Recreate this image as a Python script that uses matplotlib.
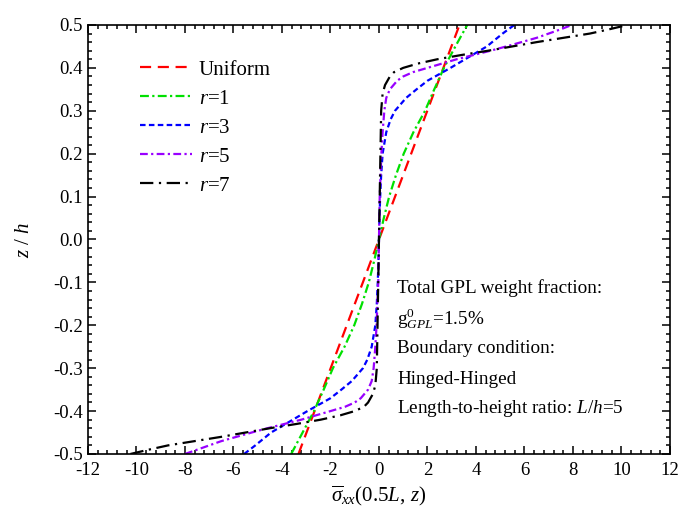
import numpy as np
import matplotlib
matplotlib.use('Agg')
import matplotlib.pyplot as plt
from matplotlib.ticker import MultipleLocator, AutoMinorLocator, FormatStrFormatter

plt.rcParams['font.family'] = ['Liberation Serif', 'DejaVu Serif']
plt.rcParams['mathtext.fontset'] = 'custom'
plt.rcParams['mathtext.rm'] = 'Liberation Serif'
plt.rcParams['mathtext.it'] = 'Liberation Serif:italic'
plt.rcParams['axes.unicode_minus'] = False

# Dati: z/h e tensione normalizzata
z_uniform = [-0.5, 0.5]
s_uniform = [-3.32, 3.32]

z_r1 = [-0.5, -0.45, -0.4, -0.35, -0.3, -0.25, -0.2, -0.15, -0.1, -0.05, 0.0,
        0.05, 0.1, 0.15, 0.2, 0.25, 0.3, 0.35, 0.4, 0.45, 0.5]
s_r1 = [-3.62, -3.15, -2.68, -2.28, -1.9, -1.42, -1.02, -0.7, -0.42, -0.2, 0.0,
        0.2, 0.42, 0.7, 1.02, 1.42, 1.9, 2.28, 2.68, 3.15, 3.64]

z_r3 = [-0.5, -0.48, -0.45, -0.42, -0.4, -0.37, -0.35, -0.33, -0.3, -0.28, -0.25,
        -0.2, -0.15, -0.1, -0.05, 0.0, 0.05, 0.1, 0.15, 0.2, 0.25, 0.28, 0.3,
        0.33, 0.35, 0.37, 0.4, 0.42, 0.45, 0.48, 0.5]
s_r3 = [-5.56, -5.1, -4.45, -3.55, -2.95, -2.0, -1.55, -1.12, -0.66, -0.48, -0.3,
        -0.15, -0.09, -0.05, -0.02, 0.0, 0.02, 0.05, 0.09, 0.15, 0.3, 0.48, 0.66,
        1.12, 1.55, 2.0, 2.95, 3.55, 4.45, 5.1, 5.58]

z_r5 = [-0.5, -0.49, -0.47, -0.45, -0.44, -0.43, -0.42, -0.41, -0.4, -0.39, -0.38,
        -0.37, -0.35, -0.33, -0.3, -0.25, -0.2, -0.1, 0.0, 0.1, 0.2, 0.25, 0.3,
        0.33, 0.35, 0.37, 0.38, 0.39, 0.4, 0.41, 0.42, 0.43, 0.44, 0.45, 0.47,
        0.49, 0.5]
s_r5 = [-8.0, -7.5, -6.5, -5.25, -4.6, -3.9, -3.2, -2.6, -2.0, -1.4, -1.0,
        -0.75, -0.45, -0.3, -0.22, -0.15, -0.1, -0.03, 0.0, 0.03, 0.1, 0.15, 0.22,
        0.3, 0.45, 0.75, 1.0, 1.4, 2.0, 2.6, 3.2, 3.9, 4.6, 5.25, 6.5,
        7.5, 7.95]

z_r7 = [-0.5, -0.49, -0.48, -0.47, -0.46, -0.45, -0.44, -0.43, -0.42, -0.41, -0.4,
        -0.39, -0.38, -0.36, -0.34, -0.3, -0.2, -0.1, 0.0, 0.1, 0.2, 0.3, 0.34,
        0.36, 0.38, 0.39, 0.4, 0.41, 0.42, 0.43, 0.44, 0.45, 0.46, 0.47, 0.48,
        0.49, 0.5]
s_r7 = [-10.25, -9.5, -8.7, -7.6, -6.5, -5.5, -4.5, -3.4, -2.4, -1.6, -1.0,
        -0.62, -0.45, -0.25, -0.15, -0.09, -0.06, -0.03, 0.0, 0.03, 0.06, 0.09, 0.15,
        0.25, 0.45, 0.62, 1.0, 1.6, 2.4, 3.4, 4.5, 5.5, 6.5, 7.6, 8.7,
        9.5, 10.25]

fig = plt.figure(figsize=(6.81, 5.16), dpi=100)
ax = fig.add_axes([0.1292, 0.1202, 0.8546, 0.8314])

lw = 1.6
ax.plot(s_uniform, z_uniform, color='#ff0000', lw=lw, linestyle=(0, (5, 3)), label='Uniform')
ax.plot(s_r1, z_r1, color='#00e000', lw=lw, linestyle=(0, (4, 1.5, 1, 1.5)), label='$r$=1')
ax.plot(s_r3, z_r3, color='#0000ff', lw=lw, linestyle=(0, (2.5, 1.5)), label='$r$=3')
ax.plot(s_r5, z_r5, color='#9900ff', lw=lw, linestyle=(0, (3.5, 1.5, 1, 1.5)), label='$r$=5')
ax.plot(s_r7, z_r7, color='black', lw=lw, linestyle=(0, (6, 2.5, 1, 2.5)), label='$r$=7')

ax.set_xlim(-12, 12)
ax.set_ylim(-0.5, 0.5)
ax.xaxis.set_major_locator(MultipleLocator(2))
ax.xaxis.set_minor_locator(AutoMinorLocator(5))
ax.yaxis.set_major_locator(MultipleLocator(0.1))
ax.yaxis.set_minor_locator(AutoMinorLocator(5))
ax.yaxis.set_major_formatter(FormatStrFormatter('%.1f'))
ax.tick_params(which='both', direction='in', top=True, right=True, labelsize=13.5, width=1.1)
ax.tick_params(which='major', length=6)
ax.tick_params(which='minor', length=3)
ax.tick_params(axis='x', pad=6)
for sp in ax.spines.values():
    sp.set_linewidth(1.2)

ax.set_xlabel(r'$\overline{\sigma}_{xx}(0.5L,\,z)$', fontsize=15, labelpad=3)
ax.set_ylabel('$z$ / $h$', fontsize=15, labelpad=14)

ax.legend(loc='upper left', bbox_to_anchor=(0.09, 0.918), frameon=False, fontsize=15,
          handlelength=2.5, handletextpad=0.3, labelspacing=0.45,
          borderpad=0, borderaxespad=0)

note = ['Total GPL weight fraction:',
        'g$^{0}_{GPL}$=1.5%',
        'Boundary condition:',
        'Hinged-Hinged',
        'Length-to-height ratio: $L$/$h$=5']
note_y = [-0.113, -0.185, -0.255, -0.327, -0.393]
for t, y in zip(note, note_y):
    ax.text(0.75, y, t, fontsize=13.8, va='center', ha='left')

fig.savefig('out.png', dpi=100)
